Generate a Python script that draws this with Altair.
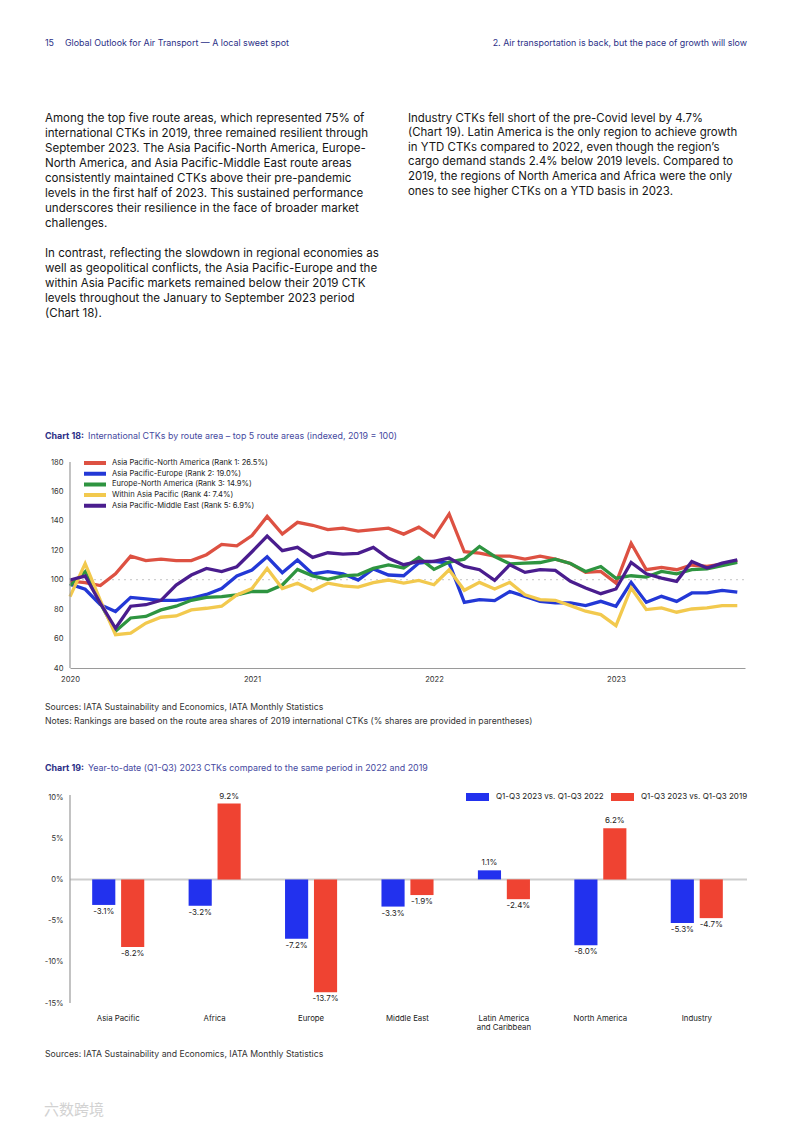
import altair as alt
import pandas as pd

FONT = "Inter"
NAVY = "#2b2f86"
NAVY_LIGHT = "#4548a0"
TXT = "#161616"
AXIS_GREY = "#9a9a9a"

# ---------------- text content ----------------
header_num = "15"
header_left = "Global Outlook for Air Transport \u2014 A local sweet spot"
header_right = "2. Air transportation is back, but the pace of growth will slow"

para_left_1 = [
    "Among the top five route areas, which represented 75% of",
    "international CTKs in 2019, three remained resilient through",
    "September 2023. The Asia Pacific-North America, Europe-",
    "North America, and Asia Pacific-Middle East route areas",
    "consistently maintained CTKs above their pre-pandemic",
    "levels in the first half of 2023. This sustained performance",
    "underscores their resilience in the face of broader market",
    "challenges.",
]
para_left_2 = [
    "In contrast, reflecting the slowdown in regional economies as",
    "well as geopolitical conflicts, the Asia Pacific-Europe and the",
    "within Asia Pacific markets remained below their 2019 CTK",
    "levels throughout the January to September 2023 period",
    "(Chart 18).",
]
para_right = [
    "Industry CTKs fell short of the pre-Covid level by 4.7%",
    "(Chart 19). Latin America is the only region to achieve growth",
    "in YTD CTKs compared to 2022, even though the region\u2019s",
    "cargo demand stands 2.4% below 2019 levels. Compared to",
    "2019, the regions of North America and Africa were the only",
    "ones to see higher CTKs on a YTD basis in 2023.",
]

title18_bold = "Chart 18:"
title18_rest = "International CTKs by route area \u2013 top 5 route areas (indexed, 2019 = 100)"
sources18 = "Sources: IATA Sustainability and Economics, IATA Monthly Statistics"
notes18 = "Notes: Rankings are based on the route area shares of 2019 international CTKs (% shares are provided in parentheses)"
title19_bold = "Chart 19:"
title19_rest = "Year-to-date (Q1-Q3) 2023 CTKs compared to the same period in 2022 and 2019"
sources19 = "Sources: IATA Sustainability and Economics, IATA Monthly Statistics"
watermark = "\u516d\u6570\u8de8\u5883"

# ---------------- chart 18 data (Jan 2020 - Sep 2023, index 2019=100) ----------------
routes18 = [
    "Asia Pacific-North America (Rank 1: 26.5%)",
    "Asia Pacific-Europe (Rank 2: 19.0%)",
    "Europe-North America (Rank 3: 14.9%)",
    "Within Asia Pacific (Rank 4: 7.4%)",
    "Asia Pacific-Middle East (Rank 5: 6.9%)",
]
colors18 = ["#dd5142", "#2338d6", "#2e9440", "#f2c94e", "#4a1d8e"]

ap_na = [99, 98, 96, 104, 116, 113, 114, 113, 113, 117, 124, 123, 130, 143, 131, 139,
         137, 134, 135, 133, 134, 135, 131, 135.7, 129, 144.7, 119, 118, 116, 116, 114,
         116, 114, 111, 105, 105.6, 97.7, 124.8, 106.8, 108.4, 106.8, 110, 109, 110.6, 113]
ap_eu = [97, 93.5, 83, 78.4, 88, 87, 86, 86, 87.4, 90, 94, 102.5, 106.6, 115.6, 104.8,
         113.4, 103.9, 105.5, 104, 99.8, 107.3, 103.2, 102.7, 111.3, 112.4, 111.3, 84.6,
         86.5, 85.8, 92, 88.7, 85.3, 84.2, 84.2, 82.4, 85.3, 82, 98.2, 84.6, 88.7, 85.3,
         91, 91, 92.8, 91.6]
eu_na = [96, 105.5, 84, 65, 74, 75, 79.5, 82, 86, 88, 88.5, 89.7, 92, 92, 96.4, 107,
         102.6, 100.3, 102.6, 103.3, 107.7, 110, 108, 115, 107, 112, 114, 122.6, 115.8,
         110.8, 111.3, 111.7, 114, 111, 105.6, 109, 101, 102.7, 101.8, 105.6, 104, 106.8,
         107.4, 109.5, 111.7]
within_ap = [88.5, 111, 86, 62.6, 63.7, 70.5, 74.5, 75.4, 79.5, 80.6, 82, 89.7, 94, 107.7,
             94, 97.6, 92.6, 97.6, 95.8, 95, 98, 99.8, 97.7, 99.5, 96.6, 106.8, 92.8, 98.2,
             93.7, 98.2, 89.8, 86.5, 86, 82.4, 78.6, 76.3, 68.8, 94.4, 79.7, 80.8, 77.9,
             80.1, 80.8, 82.4, 82.4]
ap_me = [99.8, 102.5, 84, 67, 82, 83, 86, 96.4, 103.2, 107.7, 105.5, 108.8, 119, 129.6,
         119.7, 122, 115.2, 118.3, 117.4, 117.9, 122, 114.5, 110.2, 112.4, 112.4, 114.7,
         109, 106.8, 99.5, 110.2, 105, 106.8, 106.3, 98.9, 94.4, 90.5, 93.7, 111.7, 104,
         101.1, 98.9, 112.4, 107.9, 111.3, 113.5]
y_ticks18 = [40, 60, 80, 100, 120, 140, 160, 180]
x_years18 = [2020, 2021, 2022, 2023]
x_domain18 = [2020, 2023.709]
ref_level18 = 100

# ---------------- chart 19 data ----------------
regions19 = ["Asia Pacific", "Africa", "Europe", "Middle East",
             "Latin America and Caribbean", "North America", "Industry"]
periods19 = ["Q1-Q3 2023 vs. Q1-Q3 2022", "Q1-Q3 2023 vs. Q1-Q3 2019"]
vs2022 = [-3.1, -3.2, -7.2, -3.3, 1.1, -8.0, -5.3]
vs2019 = [-8.2, 9.2, -13.7, -1.9, -2.4, 6.2, -4.7]
colors19 = ["#2231ee", "#ef4332"]
y_ticks19 = [-15, -10, -5, 0, 5, 10]

# ---------------- build tables ----------------
months = pd.date_range("2020-01-01", periods=45, freq="MS")
tpos = list(months.year + (months.month - 1) / 12.0)
rows = []
for k, (name, vals) in enumerate(zip(routes18, [ap_na, ap_eu, eu_na, within_ap, ap_me])):
    for tt, v in zip(tpos, vals):
        rows.append({"t": tt, "route": name, "ctk": v, "k": k})
df18 = pd.DataFrame(rows)
ref18 = pd.DataFrame({"t": [x_domain18[0]], "t2": [x_domain18[1]], "ctk": [ref_level18]})

rows = []
for r, a, b in zip(regions19, vs2022, vs2019):
    rows.append({"region": r, "period": periods19[0], "value": a, "label": f"{a:.1f}%"})
    rows.append({"region": r, "period": periods19[1], "value": b, "label": f"{b:.1f}%"})
df19 = pd.DataFrame(rows)
zero_df19 = pd.DataFrame({"value": [0]})

one = pd.DataFrame({"k": [0]})


def txt(x, y, text, size, color=TXT, weight="normal", align="left", lh=None, font=FONT):
    kw = dict(text=text, fontSize=size, color=color, fontWeight=weight, align=align,
              baseline="alphabetic", font=font)
    if lh:
        kw["lineHeight"] = lh
    return alt.Chart(one).mark_text(**kw).encode(x=alt.value(x), y=alt.value(y))


W = 777          # full panel width (page minus margins)
PLOT_H = 206
X0, X1 = 62, 737  # data range inside the panel (page x 70..745)

# ---------------- panel T1: header + paragraphs + chart 18 title ----------------
t1 = alt.layer(
    txt(37, 38, header_num, 8.9, NAVY),
    txt(57, 38, header_left, 8.9, NAVY),
    txt(739, 38, header_right, 8.9, NAVY, align="right"),
    txt(37, 113.5, para_left_1, 11.55, lh=15),
    txt(37, 249, para_left_2, 11.55, lh=15),
    txt(400, 113.5, para_right, 11.45, lh=14.6),
    txt(37, 431, title18_bold, 8.9, NAVY, weight="bold"),
    txt(80, 431, title18_rest, 8.9, NAVY_LIGHT),
).properties(width=W, height=454)

# ---------------- chart 18 ----------------
x18 = alt.X("t:Q", scale=alt.Scale(domain=x_domain18, range=[X0, X1], nice=False, zero=False),
            axis=alt.Axis(values=x_years18, format="d", title=None, grid=False, ticks=False,
                          labelPadding=7, labelFontSize=7.6, labelFlush=False,
                          labelOverlap=False))
y18 = alt.Y("ctk:Q", scale=alt.Scale(domain=[40, 180], nice=False, zero=False),
            axis=alt.Axis(values=y_ticks18, title=None, grid=False, ticks=False, domain=False,
                          labelPadding=7, labelFontSize=7.6, offset=-X0,
                          labelOverlap=False))

yline18 = alt.Chart(one).mark_rule(color=AXIS_GREY, strokeWidth=1.2).encode(
    x=alt.value(X0), x2=alt.value(X0), y=alt.value(0), y2=alt.value(PLOT_H))
ref100 = alt.Chart(ref18).mark_rule(color="#c4c4c4", strokeDash=[2, 4], strokeWidth=1).encode(
    x=x18, x2="t2:Q", y=y18)
lines18 = alt.Chart(df18).mark_line(strokeWidth=3.3).encode(
    x=x18, y=y18,
    color=alt.Color("route:N", sort=routes18,
                    scale=alt.Scale(domain=routes18, range=colors18),
                    legend=alt.Legend(title=None, orient="none", legendX=74, legendY=-3,
                                      symbolType="stroke", symbolSize=484,
                                      symbolStrokeWidth=4, labelFontSize=7.6,
                                      labelColor="#222", rowPadding=2.7, clipHeight=8,
                                      labelOffset=4, padding=0)),
    order=alt.Order("k:Q"),
    detail="route:N",
)
chart18 = alt.layer(ref100, lines18, yline18).properties(width=W, height=PLOT_H)

# ---------------- panel T2 ----------------
t2 = alt.layer(
    txt(37, 41.6, sources18, 8.7, "#333"),
    txt(37, 55.6, notes18, 8.7, "#333"),
    txt(37, 102.8, title19_bold, 8.9, NAVY, weight="bold"),
    txt(80, 102.8, title19_rest, 8.9, NAVY_LIGHT),
).properties(width=W, height=129)

# ---------------- chart 19 ----------------
x19 = alt.X("region:N", sort=regions19,
            scale=alt.Scale(range=[X0, X1], paddingInner=0.46, paddingOuter=0.23),
            axis=alt.Axis(title=None, domain=False, ticks=False, labelAngle=0,
                          labelPadding=11, labelFontSize=7.8, labelColor="#222",
                          labelLineHeight=9.5, labelOverlap=False,
                          labelExpr="datum.label == 'Latin America and Caribbean' ? ['Latin America', 'and Caribbean'] : datum.label"))
xo19 = alt.XOffset("period:N", sort=periods19, scale=alt.Scale(paddingInner=0.2))
y19 = alt.Y("value:Q", scale=alt.Scale(domain=[-15, 10], nice=False, zero=False),
            axis=alt.Axis(values=y_ticks19, title=None, grid=False, ticks=False, domain=False,
                          labelPadding=7, labelFontSize=7.6, offset=-X0,
                          labelOverlap=False, labelExpr="datum.value + '%'"))

yline19 = alt.Chart(one).mark_rule(color=AXIS_GREY, strokeWidth=1.2).encode(
    x=alt.value(X0), x2=alt.value(X0), y=alt.value(-2), y2=alt.value(PLOT_H))
zero19 = alt.Chart(zero_df19).mark_rule(color="#cdcdcd", strokeWidth=2).encode(
    x=alt.value(X0), x2=alt.value(X1 + 2), y=y19)
base19 = alt.Chart(df19)
bars19 = base19.mark_bar().encode(
    x=x19, xOffset=xo19, y=y19,
    color=alt.Color("period:N", sort=periods19,
                    scale=alt.Scale(domain=periods19, range=colors19),
                    legend=alt.Legend(title=None, orient="none", direction="horizontal",
                                      legendX=458, legendY=-5,
                                      symbolType="M-1,-0.35H1V0.35H-1Z", symbolSize=529,
                                      symbolStrokeWidth=0, labelFontSize=8,
                                      labelColor="#222", columnPadding=7,
                                      labelOffset=7, clipHeight=10, padding=0)),
)
pos19 = base19.transform_filter("datum.value >= 0").mark_text(
    baseline="bottom", dy=-3, fontSize=8, color="#222", font=FONT).encode(
    x=x19, xOffset=xo19, y=y19, text="label:N")
neg19 = base19.transform_filter("datum.value < 0").mark_text(
    baseline="top", dy=3, fontSize=8, color="#222", font=FONT).encode(
    x=x19, xOffset=xo19, y=y19, text="label:N")
chart19 = alt.layer(zero19, bars19, pos19, neg19, yline19).properties(width=W, height=PLOT_H)

# ---------------- panel T3 ----------------
t3 = alt.layer(
    txt(37, 53.6, sources19, 8.7, "#333"),
    txt(36, 112, watermark, 15, "#d2d2d2", font="Noto Sans CJK SC"),
).properties(width=W, height=111)

chart = alt.vconcat(t1, chart18, t2, chart19, t3, spacing=0, bounds="flush").resolve_scale(
    x="independent", y="independent", color="independent"
).properties(padding=0).configure_view(stroke=None).configure_axis(
    labelFont=FONT, labelColor="#333", domainColor=AXIS_GREY, domainWidth=1
).configure_legend(labelFont=FONT).configure_text(font=FONT)

chart.save("out.html", embed_options={"renderer": "svg", "actions": False})
